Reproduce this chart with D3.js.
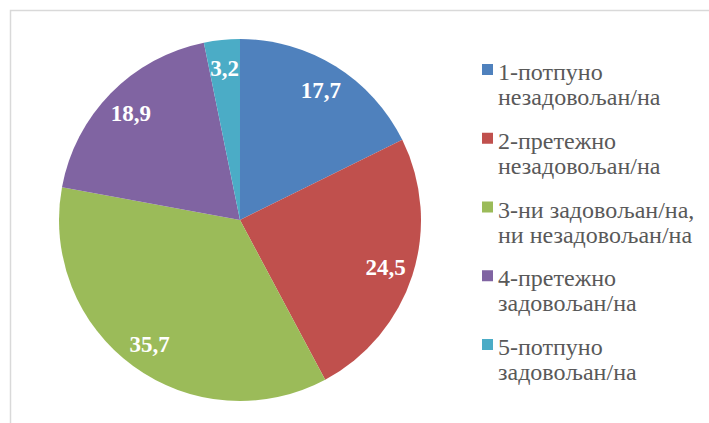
<!DOCTYPE html>
<html><head><meta charset="utf-8">
<script src="https://cdn.jsdelivr.net/npm/d3@7"></script>
<style>body{margin:0;background:#fff}svg{display:block}
text{font-family:"Liberation Serif";}
</style>
</head><body>
<svg id="c" width="709" height="423"></svg>
<script>
const categories = ["1-потпуно незадовољан/на","2-претежно незадовољан/на","3-ни задовољан/на, ни незадовољан/на","4-претежно задовољан/на","5-потпуно задовољан/на"];
const legendLines = [["1-потпуно","незадовољан/на"],["2-претежно","незадовољан/на"],["3-ни задовољан/на,","ни незадовољан/на"],["4-претежно","задовољан/на"],["5-потпуно","задовољан/на"]];
const values = [17.7, 24.5, 35.7, 18.9, 3.2];
const valueLabels = ["17,7","24,5","35,7","18,9","3,2"];
const colors = ["#4F81BD","#C0504D","#9BBB59","#8064A2","#4BACC6"];

const svg = d3.select("#c");
// frame
svg.append("path").attr("d","M10.5,423 L10.5,10.5 L709,10.5").attr("fill","none").attr("stroke","#d9d9d9").attr("stroke-width",1.5);

const cx = 240, cy = 220, R = 181;
const pie = d3.pie().sort(null).value(d=>d)(values);
const arc = d3.arc().innerRadius(0).outerRadius(R);
const g = svg.append("g").attr("transform",`translate(${cx},${cy})`);
g.selectAll("path.s").data(pie).join("path").attr("class","s")
  .attr("d",arc).attr("fill",(d,i)=>colors[i]);
const labelArc = d3.arc().innerRadius(153).outerRadius(153);
g.selectAll("text.l").data(pie).join("text").attr("class","l")
  .attr("transform",d=>`translate(${labelArc.centroid(d)})`)
  .attr("text-anchor","middle").attr("dy","0.35em")
  .attr("font-weight","bold").attr("font-size",23).attr("fill","#fff")
  .text((d,i)=>valueLabels[i]);

// legend
const lg = svg.append("g");
const b0 = 80, step = 68.75, lh = 25;
legendLines.forEach((lines,i)=>{
  const b = b0 + i*step;
  lg.append("rect").attr("x",482).attr("y",b-16).attr("width",11).attr("height",11).attr("fill",colors[i]);
  lines.forEach((t,j)=>{
    lg.append("text").attr("x",498).attr("y",b + j*lh)
      .attr("font-size",24).attr("fill","#595959").text(t);
  });
});
</script>
</body></html>
